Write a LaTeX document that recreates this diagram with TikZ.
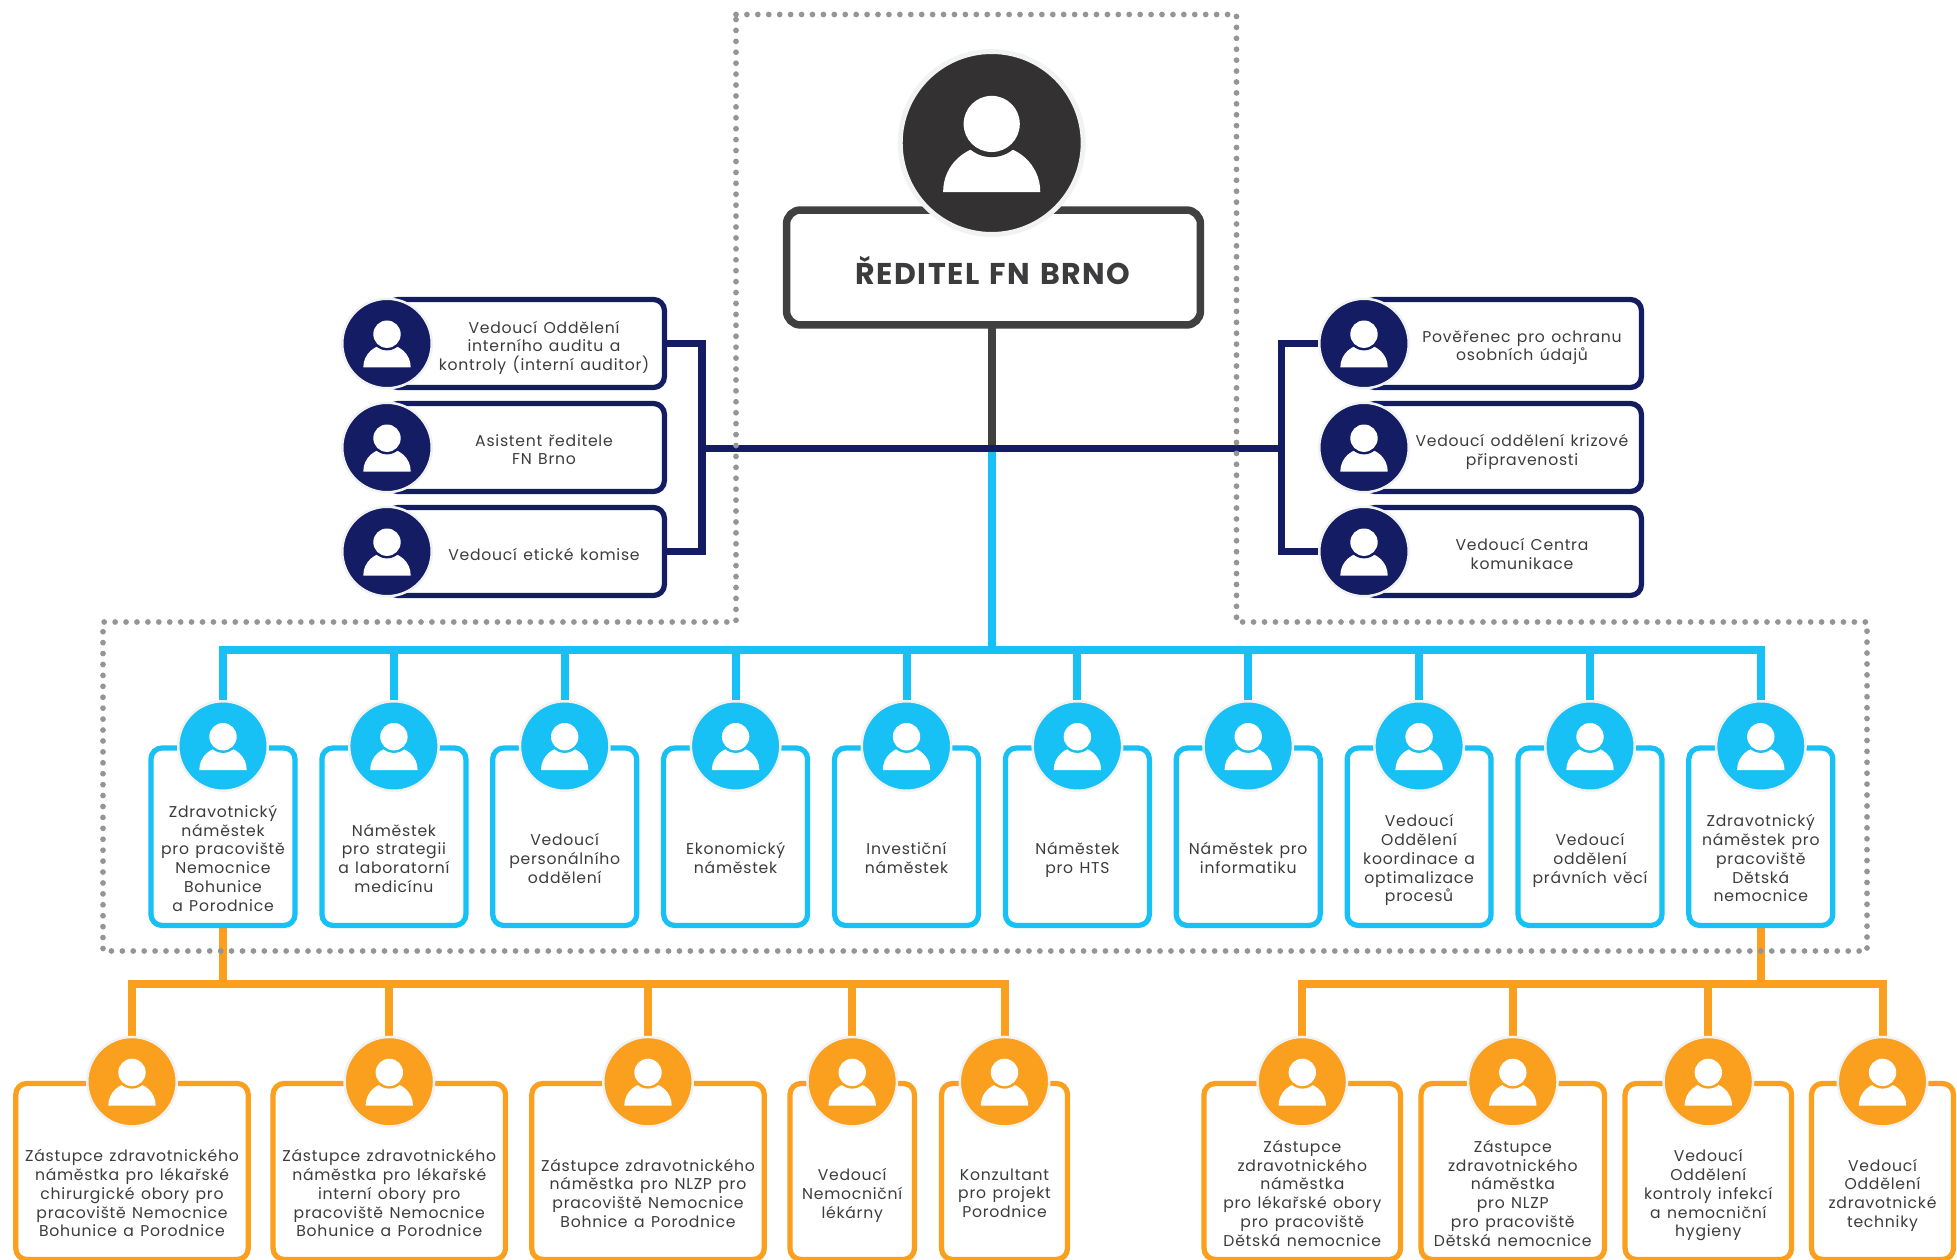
\documentclass[tikz,border=0pt]{standalone}
\usepackage{fontspec}
\setmainfont{Poppins}[LetterSpace=4.8,WordSpace=1.3]
\usepackage{tikz}
\usetikzlibrary{backgrounds}

\definecolor{navyc}{HTML}{141C64}
\definecolor{cyanc}{HTML}{17C0F5}
\definecolor{orangec}{HTML}{FA9F1E}
\definecolor{darkc}{HTML}{333132}
\definecolor{grayc}{HTML}{404041}
\definecolor{dotc}{HTML}{939598}
\definecolor{haloc}{HTML}{F1F2F2}
\definecolor{textc}{HTML}{3C3C3E}

\tikzset{
	box/.style={rectangle, draw=#1, line width=0.105cm, fill=white, rounded corners=0.22cm, inner sep=0pt, outer sep=0pt},
	circ/.style={circle, draw=haloc, line width=0.05cm, fill=#1, minimum size=1.79cm, inner sep=0pt, outer sep=0pt},
	lbl/.style={align=center, text=textc, inner sep=0pt, yshift=-0.06cm, font=\fontsize{8.9}{10.65}\selectfont, execute at begin node=\strut, execute at end node=\strut},
	conn/.style={draw=#1, line width=0.16cm},
	pics/person/.style={code={
		\fill[white] (-23.7,24) .. controls (-23.7,10) and (-12,1) .. (0,1) .. controls (12,1) and (23.7,10) .. (23.7,24) -- cycle;
		\fill[#1] (0,-9.3) circle (16.2);
		\fill[white] (0,-9.3) circle (13.7);
	}},
}

\newcommand{\personc}[4]{
	\node at (#2,#3) [circ=#4] (#1) {};
	\pic at (#1) {person=#4};
}

\begin{document}
\begin{tikzpicture}[x=0.02cm, y=-0.02cm]

\useasboundingbox (0,0) rectangle (1957,1260);

%% director
\node at (993.5,267.5) [box=grayc, line width=0.15cm, rounded corners=0.28cm, minimum width=8.28cm, minimum height=2.3cm] (dir) {};
\node at (991.7,143) [circle, draw=haloc, line width=0.1cm, fill=darkc, minimum size=3.66cm, outer sep=0pt] (dirc) {};
\pic[scale=2.05] at (dirc) {person=darkc};
\node at (993,273) [lbl, font=\fontsize{17.1}{20}\bfseries\selectfont] (dirt) {ŘEDITEL FN BRNO};

%% left staff
\node at (387,343.5) [box=navyc, anchor=west, minimum width=5.55cm, minimum height=1.76cm] (sl1) {};
\personc{slc1}{387}{343.5}{navyc}
\node at (544,345.5) [lbl] (slt1) {Vedoucí Oddělení\\interního auditu a\\kontroly (interní auditor)};

\node at (387,447.5) [box=navyc, anchor=west, minimum width=5.55cm, minimum height=1.76cm] (sl2) {};
\personc{slc2}{387}{447.5}{navyc}
\node at (544,449.5) [lbl] (slt2) {Asistent ředitele\\FN Brno};

\node at (387,551.5) [box=navyc, anchor=west, minimum width=5.55cm, minimum height=1.76cm] (sl3) {};
\personc{slc3}{387}{551.5}{navyc}
\node at (544,553.5) [lbl] (slt3) {Vedoucí etické komise};

%% right staff
\node at (1364,343.5) [box=navyc, anchor=west, minimum width=5.55cm, minimum height=1.76cm] (sr1) {};
\personc{src1}{1364}{343.5}{navyc}
\node at (1522,345.5) [lbl] (srt1) {Pověřenec pro ochranu\\osobních údajů};

\node at (1364,447.5) [box=navyc, anchor=west, minimum width=5.55cm, minimum height=1.76cm] (sr2) {};
\personc{src2}{1364}{447.5}{navyc}
\node at (1522,449.5) [lbl] (srt2) {Vedoucí oddělení krizové\\připravenosti};

\node at (1364,551.5) [box=navyc, anchor=west, minimum width=5.55cm, minimum height=1.76cm] (sr3) {};
\personc{src3}{1364}{551.5}{navyc}
\node at (1522,553.5) [lbl] (srt3) {Vedoucí Centra\\komunikace};

%% deputies
\node at (223,748) [box=cyanc, anchor=north, minimum width=2.88cm, minimum height=3.55cm] (n1) {};
\personc{nc1}{223}{746}{cyanc}
\node at (223,858) [lbl] (nt1) {Zdravotnický\\náměstek\\pro pracoviště\\Nemocnice\\Bohunice\\a Porodnice};

\node at (393.9,748) [box=cyanc, anchor=north, minimum width=2.88cm, minimum height=3.55cm] (n2) {};
\personc{nc2}{393.9}{746}{cyanc}
\node at (393.9,858) [lbl] (nt2) {Náměstek\\pro strategii\\a laboratorní\\medicínu};

\node at (564.7,748) [box=cyanc, anchor=north, minimum width=2.88cm, minimum height=3.55cm] (n3) {};
\personc{nc3}{564.7}{746}{cyanc}
\node at (564.7,858) [lbl] (nt3) {Vedoucí\\personálního\\oddělení};

\node at (735.6,748) [box=cyanc, anchor=north, minimum width=2.88cm, minimum height=3.55cm] (n4) {};
\personc{nc4}{735.6}{746}{cyanc}
\node at (735.6,858) [lbl] (nt4) {Ekonomický\\náměstek};

\node at (906.5,748) [box=cyanc, anchor=north, minimum width=2.88cm, minimum height=3.55cm] (n5) {};
\personc{nc5}{906.5}{746}{cyanc}
\node at (906.5,858) [lbl] (nt5) {Investiční\\náměstek};

\node at (1077.4,748) [box=cyanc, anchor=north, minimum width=2.88cm, minimum height=3.55cm] (n6) {};
\personc{nc6}{1077.4}{746}{cyanc}
\node at (1077.4,858) [lbl] (nt6) {Náměstek\\pro HTS};

\node at (1248.2,748) [box=cyanc, anchor=north, minimum width=2.88cm, minimum height=3.55cm] (n7) {};
\personc{nc7}{1248.2}{746}{cyanc}
\node at (1248.2,858) [lbl] (nt7) {Náměstek pro\\informatiku};

\node at (1419.1,748) [box=cyanc, anchor=north, minimum width=2.88cm, minimum height=3.55cm] (n8) {};
\personc{nc8}{1419.1}{746}{cyanc}
\node at (1419.1,858) [lbl] (nt8) {Vedoucí\\Oddělení\\koordinace a\\optimalizace\\procesů};

\node at (1590,748) [box=cyanc, anchor=north, minimum width=2.88cm, minimum height=3.55cm] (n9) {};
\personc{nc9}{1590}{746}{cyanc}
\node at (1590,858) [lbl] (nt9) {Vedoucí\\oddělení\\právních věcí};

\node at (1760.8,748) [box=cyanc, anchor=north, minimum width=2.88cm, minimum height=3.55cm] (n10) {};
\personc{nc10}{1760.8}{746}{cyanc}
\node at (1760.8,858) [lbl] (nt10) {Zdravotnický\\náměstek pro\\pracoviště\\Dětská\\nemocnice};

%% Bohunice branch
\node at (132,1083.5) [box=orangec, anchor=north, minimum width=4.65cm, minimum height=3.52cm] (a1) {};
\personc{ac1}{132}{1081.7}{orangec}
\node at (132,1193) [lbl] (at1) {Zástupce zdravotnického\\náměstka pro lékařské\\chirurgické obory pro\\pracoviště Nemocnice\\Bohunice a Porodnice};

\node at (389.3,1083.5) [box=orangec, anchor=north, minimum width=4.65cm, minimum height=3.52cm] (a2) {};
\personc{ac2}{389.3}{1081.7}{orangec}
\node at (389.3,1193) [lbl] (at2) {Zástupce zdravotnického\\náměstka pro lékařské\\interní obory pro\\pracoviště Nemocnice\\Bohunice a Porodnice};

\node at (648,1083.5) [box=orangec, anchor=north, minimum width=4.65cm, minimum height=3.52cm] (a3) {};
\personc{ac3}{648}{1081.7}{orangec}
\node at (648,1193) [lbl] (at3) {Zástupce zdravotnického\\náměstka pro NLZP pro\\pracoviště Nemocnice\\Bohnice a Porodnice};

\node at (852.2,1083.5) [box=orangec, anchor=north, minimum width=2.49cm, minimum height=3.52cm] (a4) {};
\personc{ac4}{852.2}{1081.7}{orangec}
\node at (852.2,1193) [lbl] (at4) {Vedoucí\\Nemocniční\\lékárny};

\node at (1004.5,1083.5) [box=orangec, anchor=north, minimum width=2.52cm, minimum height=3.52cm] (a5) {};
\personc{ac5}{1004.5}{1081.7}{orangec}
\node at (1004.5,1193) [lbl] (at5) {Konzultant\\pro projekt\\Porodnice};

%% children's hospital branch
\node at (1302.3,1083.5) [box=orangec, anchor=north, minimum width=3.93cm, minimum height=3.52cm] (b1) {};
\personc{bc1}{1302.3}{1081.7}{orangec}
\node at (1302.3,1193) [lbl] (bt1) {Zástupce\\zdravotnického\\náměstka\\pro lékařské obory\\pro pracoviště\\Dětská nemocnice};

\node at (1512.8,1083.5) [box=orangec, anchor=north, minimum width=3.67cm, minimum height=3.52cm] (b2) {};
\personc{bc2}{1512.8}{1081.7}{orangec}
\node at (1512.8,1193) [lbl] (bt2) {Zástupce\\zdravotnického\\náměstka\\pro NLZP\\pro pracoviště\\Dětská nemocnice};

\node at (1708.3,1083.5) [box=orangec, anchor=north, minimum width=3.33cm, minimum height=3.52cm] (b3) {};
\personc{bc3}{1708.3}{1081.7}{orangec}
\node at (1708.3,1193) [lbl] (bt3) {Vedoucí\\Oddělení\\kontroly infekcí\\a nemocniční\\hygieny};

\node at (1882.5,1083.5) [box=orangec, anchor=north, minimum width=2.84cm, minimum height=3.52cm] (b4) {};
\personc{bc4}{1882.5}{1081.7}{orangec}
\node at (1882.5,1193) [lbl] (bt4) {Vedoucí\\Oddělení\\zdravotnické\\techniky};

\coordinate (hub) at (991.7,448.5);
\coordinate (navyl) at (702,448.5);
\coordinate (navyr) at (1281.7,448.5);
\coordinate (cbus) at (991.7,649.5);
\coordinate (abus) at (223,984);
\coordinate (bbus) at (1760.8,984);

\begin{scope}[on background layer]
	\draw [conn=grayc] (dir.south -| hub) -- (hub);
	\draw [conn=cyanc] (hub) -- (cbus);
	\draw [conn=navyc, line width=0.15cm] (navyl) -- (navyr);
	\draw [conn=navyc, line width=0.15cm] (sl1.east) -- (sl1.east -| navyl) -- (sl3.east -| navyl) -- (sl3.east);
	\draw [conn=navyc, line width=0.15cm] (src1.west) -- (src1.west -| navyr) -- (src3.west -| navyr) -- (src3.west);

	\draw [conn=cyanc] (nc1.north) -- (nc1.north |- cbus) -- (nc10.north |- cbus) -- (nc10.north);
	\draw [conn=cyanc] (nc2.north) -- (nc2.north |- cbus);
	\draw [conn=cyanc] (nc3.north) -- (nc3.north |- cbus);
	\draw [conn=cyanc] (nc4.north) -- (nc4.north |- cbus);
	\draw [conn=cyanc] (nc5.north) -- (nc5.north |- cbus);
	\draw [conn=cyanc] (nc6.north) -- (nc6.north |- cbus);
	\draw [conn=cyanc] (nc7.north) -- (nc7.north |- cbus);
	\draw [conn=cyanc] (nc8.north) -- (nc8.north |- cbus);
	\draw [conn=cyanc] (nc9.north) -- (nc9.north |- cbus);

	\draw [conn=orangec] (n1.south) -- (abus);
	\draw [conn=orangec] (ac1.north) -- (ac1.north |- abus) -- (ac5.north |- abus) -- (ac5.north);
	\draw [conn=orangec] (ac2.north) -- (ac2.north |- abus);
	\draw [conn=orangec] (ac3.north) -- (ac3.north |- abus);
	\draw [conn=orangec] (ac4.north) -- (ac4.north |- abus);

	\draw [conn=orangec] (n10.south) -- (bbus);
	\draw [conn=orangec] (bc1.north) -- (bc1.north |- bbus) -- (bc4.north |- bbus) -- (bc4.north);
	\draw [conn=orangec] (bc2.north) -- (bc2.north |- bbus);
	\draw [conn=orangec] (bc3.north) -- (bc3.north |- bbus);

	%% dotted frame
	\draw [dotc, line width=0.115cm, line cap=round, dash pattern=on 0pt off 0.2185cm] (736,14.5) -- (1236.5,14.5) -- (1236.5,622) -- (1867,622) -- (1867,951) -- (103,951) -- (103,622) -- (736,622) -- cycle;
\end{scope}

\end{tikzpicture}
\end{document}
